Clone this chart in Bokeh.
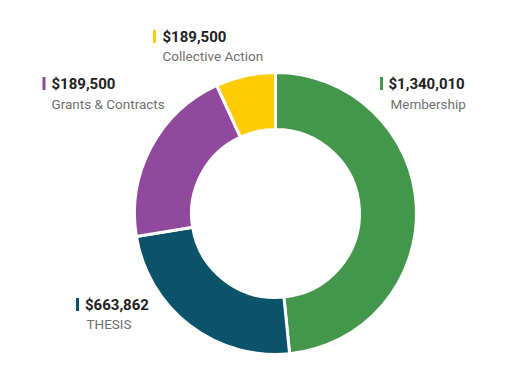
import numpy as np
from bokeh.plotting import figure
from bokeh.models import Range1d, ColumnDataSource
from bokeh.core.properties import value
from bokeh.embed import file_html
from bokeh.resources import INLINE

# ---- data ----
categories = ["Membership", "THESIS", "Grants & Contracts", "Collective Action"]
amounts = [1340010, 663862, 575000, 189500]          # slice sizes
amount_labels = ["$1,340,010", "$663,862", "$189,500", "$189,500"]  # texts as printed
colors = ["#43964A", "#0A536A", "#91499D", "#FFCB05"]

# ---- layout (page pixel coordinates) ----
W, H = 494, 366
cx_page, cy_page = 275, 213
outer_r, inner_r = 141, 84
TEXT_SHIFT = 4.5
# label anchors: (bar x, value x, value baseline y, name x, name baseline y)
label_pos = [
    (381, 388, 88, 390, 107.5),
    (77, 84.5, 309, 86, 327.5),
    (43.5, 51, 88, 51, 107.5),
    (154, 162, 41, 162, 59.5),
]

def px(x):
    return x

def py(y):
    return H - y

p = figure(width=W, height=H, output_backend="svg", toolbar_location=None,
           x_range=Range1d(0, W), y_range=Range1d(0, H), min_border=0)
p.axis.visible = False
p.grid.visible = False
p.outline_line_color = None
p.background_fill_color = "white"
p.border_fill_color = "white"

vals = np.array(amounts, dtype=float)
frac = vals / vals.sum()
c1 = np.cumsum(frac)
c0 = c1 - frac
start = np.pi / 2 - 2 * np.pi * c1
end = np.pi / 2 - 2 * np.pi * c0

src = ColumnDataSource(dict(x=[px(cx_page)] * len(vals), y=[py(cy_page)] * len(vals),
                            start=start, end=end, color=colors))
p.annular_wedge(x="x", y="y", inner_radius=inner_r, outer_radius=outer_r,
                inner_radius_units="screen", outer_radius_units="screen",
                start_angle="start", end_angle="end", fill_color="color",
                line_color="white", line_width=3, source=src)

bx = [px(l[0]) for l in label_pos]
by = [py(l[2] - 5) for l in label_pos]
p.rect(x=bx, y=by, width=3, height=13, width_units="screen", height_units="screen",
       fill_color=colors, line_color=None)

p.text(x=[px(l[1]) for l in label_pos], y=[py(l[2] - TEXT_SHIFT) for l in label_pos],
       text=amount_labels,
       text_font=value("Roboto"), text_font_style="bold", text_font_size="15px",
       text_color="#222222", text_baseline="alphabetic", text_align="left")
p.text(x=[px(l[3]) for l in label_pos], y=[py(l[4] - TEXT_SHIFT) for l in label_pos],
       text=categories,
       text_font=value("Roboto"), text_font_size="13.5px",
       text_color="#707070", text_baseline="alphabetic", text_align="left")

open("out.html", "w").write(file_html(p, INLINE))
